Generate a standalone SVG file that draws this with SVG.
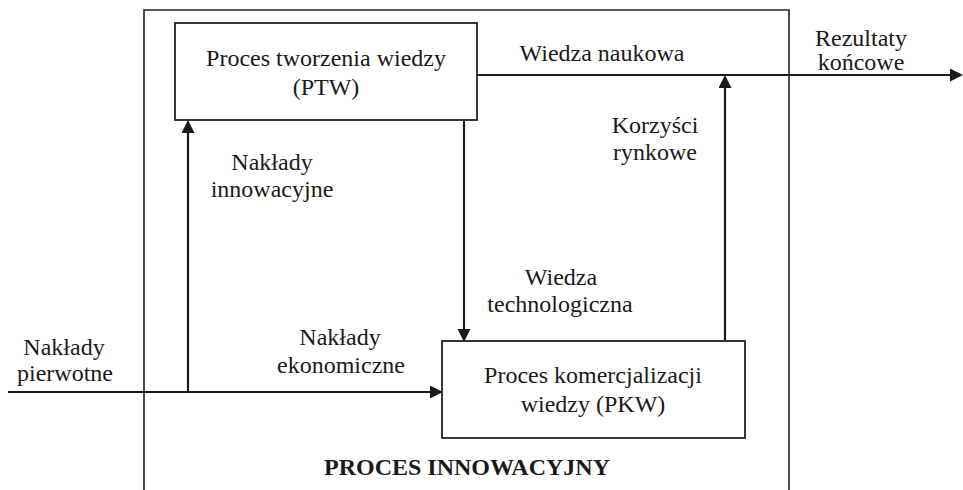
<svg xmlns="http://www.w3.org/2000/svg" width="963" height="490" viewBox="0 0 963 490">
<style>
  .t { font-family: "Times New Roman", "Liberation Serif", Tinos, "Nimbus Roman", "DejaVu Serif", serif; font-size: 24px; font-weight: normal; fill: #1a1a1a; text-anchor: middle; }
  .b { font-weight: bold; }
  .box { fill: #ffffff; stroke: #222222; stroke-width: 1.8; }
  .frame { fill: none; stroke: #222222; stroke-width: 1.6; }
  .ln { fill: none; stroke: #1a1a1a; stroke-width: 2.2; }
</style>
<defs>
  <marker id="ah" markerUnits="userSpaceOnUse" markerWidth="14" markerHeight="14" refX="6" refY="6.5" orient="auto">
    <path d="M0,0 L13,6.5 L0,13 z" fill="#1a1a1a"/>
  </marker>
</defs>
<rect x="0" y="0" width="963" height="490" fill="#ffffff"/>

<g id="frame">
  <path class="frame" d="M144,492 V10 H789 V492"/>
  <text class="t b" x="467" y="475">PROCES INNOWACYJNY</text>
</g>

<g id="connectors">
  <line class="ln" x1="8" y1="392" x2="436" y2="392" marker-end="url(#ah)"/>
  <line class="ln" x1="188" y1="393" x2="188" y2="127" marker-end="url(#ah)"/>
  <line class="ln" x1="464" y1="121" x2="464" y2="335" marker-end="url(#ah)"/>
  <line class="ln" x1="725" y1="341" x2="725" y2="82" marker-end="url(#ah)"/>
  <line class="ln" x1="477" y1="75" x2="956" y2="75" marker-end="url(#ah)"/>
</g>

<g id="ptw">
  <rect class="box" x="175" y="23" width="302" height="97"/>
  <text class="t" x="326" y="66">Proces tworzenia wiedzy</text>
  <text class="t" x="326" y="95">(PTW)</text>
</g>

<g id="pkw">
  <rect class="box" x="442" y="341" width="303" height="97"/>
  <text class="t" x="593" y="383">Proces komercjalizacji</text>
  <text class="t" x="593" y="412">wiedzy (PKW)</text>
</g>

<g id="labels">
  <text class="t" x="602" y="61">Wiedza naukowa</text>
  <text class="t" x="861" y="46">Rezultaty</text>
  <text class="t" x="861" y="70">końcowe</text>
  <text class="t" x="655" y="133">Korzyści</text>
  <text class="t" x="655" y="160">rynkowe</text>
  <text class="t" x="272" y="170">Nakłady</text>
  <text class="t" x="272" y="197">innowacyjne</text>
  <text class="t" x="561" y="285">Wiedza</text>
  <text class="t" x="560" y="312">technologiczna</text>
  <text class="t" x="340" y="345">Nakłady</text>
  <text class="t" x="341" y="373">ekonomiczne</text>
  <text class="t" x="64" y="355">Nakłady</text>
  <text class="t" x="65" y="381">pierwotne</text>
</g>
</svg>
